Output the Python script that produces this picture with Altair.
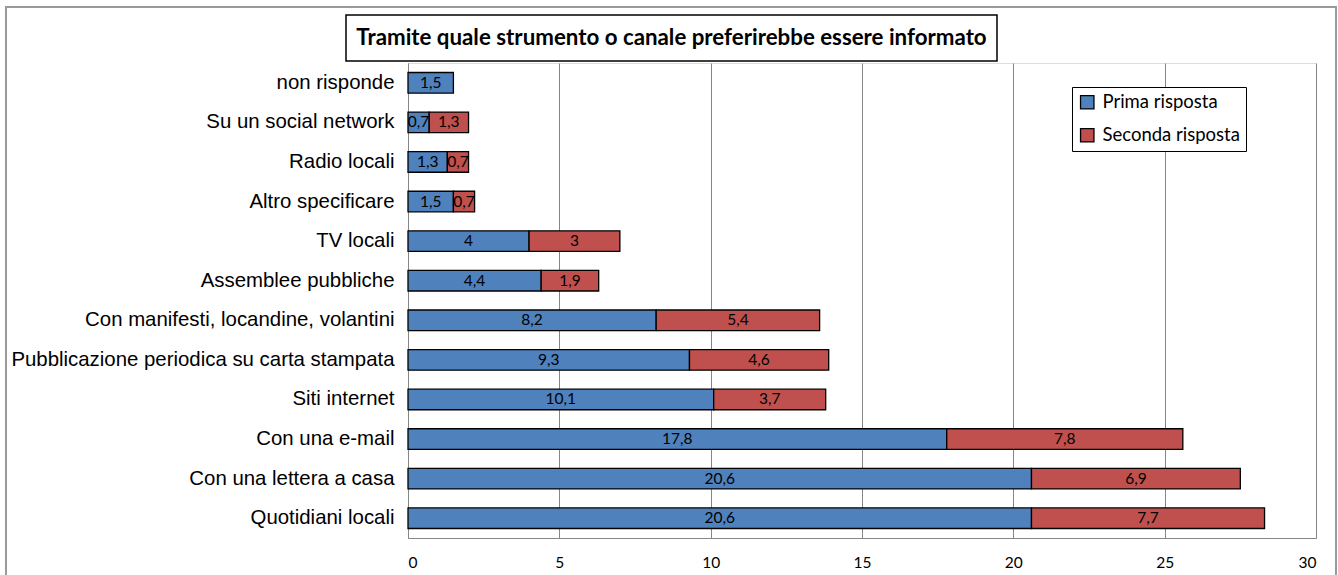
import altair as alt
import pandas as pd

# Survey answers: preferred channel for receiving information (percentages)
categories = [
    "non risponde",
    "Su un social network",
    "Radio locali",
    "Altro specificare",
    "TV locali",
    "Assemblee pubbliche",
    "Con manifesti, locandine, volantini",
    "Pubblicazione periodica su carta stampata",
    "Siti internet",
    "Con una e-mail",
    "Con una lettera a casa",
    "Quotidiani locali",
]
prima = [1.5, 0.7, 1.3, 1.5, 4, 4.4, 8.2, 9.3, 10.1, 17.8, 20.6, 20.6]
seconda = [0, 1.3, 0.7, 0.7, 3, 1.9, 5.4, 4.6, 3.7, 7.8, 6.9, 7.7]
series = ["Prima risposta", "Seconda risposta"]
colors = ["#4F81BD", "#C0504D"]
title_text = "Tramite quale strumento o canale preferirebbe essere informato"


def fmt(v):
    s = f"{v:g}"
    return s.replace(".", ",")


rows = []
for cat, p, s in zip(categories, prima, seconda):
    rows.append({"cat": cat, "serie": series[0], "start": 0.0, "end": p,
                 "mid": p / 2, "label": fmt(p), "val": p})
    rows.append({"cat": cat, "serie": series[1], "start": p, "end": p + s,
                 "mid": p + s / 2, "label": fmt(s), "val": s})
df = pd.DataFrame(rows)
df = df[df["val"] > 0]

W, H = 908, 475
LABEL_FONT = "Lato"

y_enc = alt.Y("cat:N", sort=categories, title=None,
              scale=alt.Scale(paddingInner=0.48, paddingOuter=0.24),
              axis=alt.Axis(labelFont="Liberation Sans", labelFontSize=20.4,
                            labelColor="black", labelPadding=14, ticks=False,
                            domainColor="#868686", labelLimit=500))
x_scale = alt.Scale(domain=[0, 30], nice=False)

bars = alt.Chart(df).mark_bar(stroke="black", strokeWidth=1.3).encode(
    x=alt.X("start:Q", scale=x_scale, title=None,
            axis=alt.Axis(values=[0, 5, 10, 15, 20, 25, 30], ticks=False,
                          labelFont=LABEL_FONT, labelFontSize=15.5,
                          labelColor="black", labelPadding=17,
                          domainColor="#868686", gridColor="#868686",
                          gridWidth=1)),
    x2="end:Q",
    y=y_enc,
    color=alt.Color("serie:N", scale=alt.Scale(domain=series, range=colors),
                    legend=alt.Legend(title=None, orient="none", legendX=664,
                                      legendY=24, strokeColor="black",
                                      fillColor="white", padding=6,
                                      symbolType="square", symbolSize=180,
                                      symbolStrokeColor="black",
                                      symbolStrokeWidth=1.3,
                                      labelFont=LABEL_FONT, labelFontSize=18.5,
                                      labelColor="black", rowPadding=13,
                                      labelOffset=6)),
)

labels = alt.Chart(df).mark_text(font=LABEL_FONT, fontSize=15.5,
                                 color="black").encode(
    x=alt.X("mid:Q", scale=x_scale),
    y=alt.Y("cat:N", sort=categories),
    text="label:N",
)

deco = pd.DataFrame({"t": [title_text]})

# outer frame of the chart
frame = alt.Chart(deco).mark_rect(fill=None, stroke="#9a9a9a",
                                  strokeWidth=2).encode(
    x=alt.value(-402), x2=alt.value(928), y=alt.value(-56), y2=alt.value(540))

# boxed title
title_box = alt.Chart(deco).mark_rect(fill="white", stroke="black",
                                      strokeWidth=1.5).encode(
    x=alt.value(-62), x2=alt.value(589), y=alt.value(-48), y2=alt.value(-2))
title = alt.Chart(deco).mark_text(font=LABEL_FONT, fontSize=22.3,
                                  fontWeight="bold", color="black").encode(
    x=alt.value(263.5), y=alt.value(-25), text="t:N")

chart = alt.layer(frame, bars, labels, title_box, title).properties(
    width=W, height=H,
    autosize=alt.AutoSizeParams(type="none"),
    padding={"left": 408, "top": 63, "right": 22, "bottom": 37},
).configure_view(stroke=None).configure(background="white")

chart.save("out.html", embed_options={"renderer": "svg", "actions": False})
